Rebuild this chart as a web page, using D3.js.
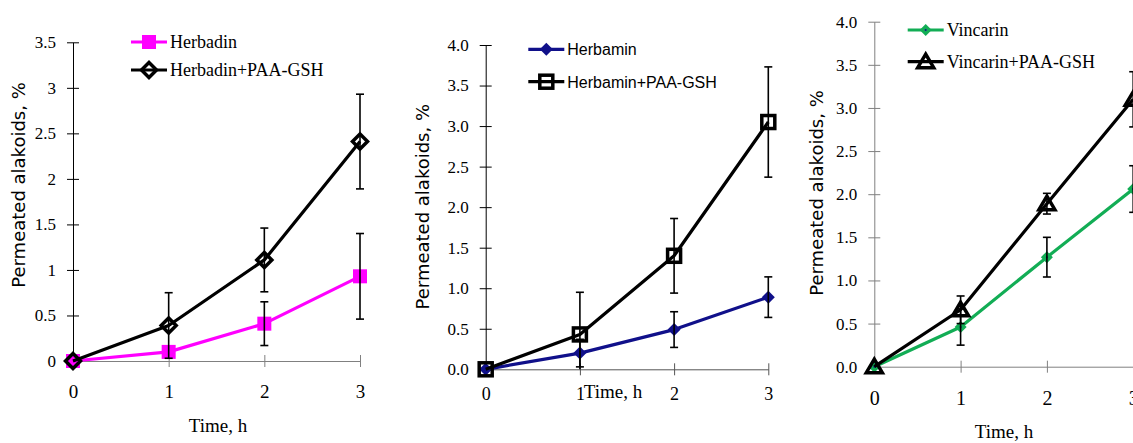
<!DOCTYPE html>
<html>
<head>
<meta charset="utf-8">
<script src="https://cdn.jsdelivr.net/npm/d3@7"></script>
<style>
body { margin: 0; background: #fff; }
</style>
</head>
<body>
<script>
// data
var hours = [0, 1, 2, 3];

var herbadin = [0, 0.10, 0.41, 0.93];
var herbadinErr = [0, 0, 0.24, 0.47];
var herbadinPaa = [0, 0.39, 1.11, 2.41];
var herbadinPaaErr = [0, 0.36, 0.35, 0.52];

var herbamin = [0, 0.20, 0.49, 0.89];
var herbaminErr = [0, 0.17, 0.22, 0.25];
var herbaminPaa = [0, 0.43, 1.40, 3.05];
var herbaminPaaErr = [0, 0.52, 0.46, 0.68];

var vincarin = [0, 0.46, 1.27, 2.06];
var vincarinErr = [0, 0.21, 0.23, 0.27];
var vincarinPaa = [0, 0.66, 1.89, 3.10];
var vincarinPaaErr = [0, 0.16, 0.12, 0.32];

var yTicksA = [0, 0.5, 1, 1.5, 2, 2.5, 3, 3.5];
var yTicksB = [0, 0.5, 1, 1.5, 2, 2.5, 3, 3.5, 4];

var yTitle = "Permeated alakoids, %";
var xTitle = "Time, h";

var serif = "'Liberation Serif', 'Times New Roman', serif";
var sans = "'DejaVu Sans', sans-serif";

var svg = d3.select("body").append("svg")
    .attr("width", 1133)
    .attr("height", 443);

var panels = [
  {
    x0: 73, x1: 360, yTop: 42.3, yBot: 361, yMax: 3.5, ticks: yTicksA, fmt: d3.format("~g"),
    yAxisColor: "#000", xAxisColor: "#808080", xFont: 19, xLabelY: 37,
    titleX: 25, titleY: 185, timeX: 218, timeY: 432,
    legX: 131, legY: [42, 70], legFont: serif, legSize: 18,
    series: [
      {name: "Herbadin", v: herbadin, e: herbadinErr, color: "#ff00ff", marker: "square"},
      {name: "Herbadin+PAA-GSH", v: herbadinPaa, e: herbadinPaaErr, color: "#000", marker: "diamondOpen"}
    ]
  },
  {
    x0: 485.7, x1: 768.3, yTop: 45, yBot: 369.3, yMax: 4, ticks: yTicksB, fmt: d3.format(".1f"),
    yAxisColor: "#000", xAxisColor: "#555", xFont: 18, xLabelY: 31,
    titleX: 429, titleY: 206.7, timeX: 613, timeY: 398,
    legX: 528.3, legY: [49.3, 81.7], legFont: "'Liberation Sans', Arial, sans-serif", legSize: 16,
    series: [
      {name: "Herbamin", v: herbamin, e: herbaminErr, color: "#10108a", marker: "diamond"},
      {name: "Herbamin+PAA-GSH", v: herbaminPaa, e: herbaminPaaErr, color: "#000", marker: "squareOpen"}
    ]
  },
  {
    x0: 874.3, x1: 1133.2, yTop: 21.7, yBot: 366.7, yMax: 4, ticks: yTicksB, fmt: d3.format(".1f"),
    yAxisColor: "#808080", xAxisColor: "#808080", xFont: 20, xLabelY: 38,
    titleX: 823, titleY: 193, timeX: 1004, timeY: 438,
    legX: 907.7, legY: [30, 61.7], legFont: serif, legSize: 18,
    series: [
      {name: "Vincarin", v: vincarin, e: vincarinErr, color: "#12ad55", marker: "dotDiamond"},
      {name: "Vincarin+PAA-GSH", v: vincarinPaa, e: vincarinPaaErr, color: "#000", marker: "triangleOpen"}
    ]
  }
];

function drawMarker(g, type, color) {
  if (type == "square") {
    g.append("rect").attr("x", -7).attr("y", -7).attr("width", 14).attr("height", 14).attr("fill", color);
  } else if (type == "squareOpen") {
    g.append("rect").attr("x", -6.5).attr("y", -6.5).attr("width", 13).attr("height", 13)
      .attr("fill", "none").attr("stroke", color).attr("stroke-width", 3.5);
  } else if (type == "diamondOpen") {
    g.append("path").attr("d", "M0,-7.5L7.5,0L0,7.5L-7.5,0Z")
      .attr("fill", "none").attr("stroke", color).attr("stroke-width", 3.5);
  } else if (type == "diamond") {
    g.append("path").attr("d", "M0,-6.5L6.5,0L0,6.5L-6.5,0Z").attr("fill", color);
  } else if (type == "dotDiamond") {
    g.append("path").attr("d", "M0,-6L6,0L0,6L-6,0Z").attr("fill", color);
    g.append("circle").attr("r", 1).attr("fill", "#10108a");
  } else if (type == "triangleOpen") {
    g.append("path").attr("d", "M0,-7.5L8,6L-8,6Z")
      .attr("fill", "none").attr("stroke", color).attr("stroke-width", 3.5).attr("stroke-linejoin", "miter");
  }
}

panels.forEach(function(p) {
  var x = d3.scaleLinear().domain([0, 3]).range([p.x0, p.x1]);
  var y = d3.scaleLinear().domain([0, p.yMax]).range([p.yBot, p.yTop]);

  var ya = svg.append("g")
      .attr("transform", "translate(" + p.x0 + ",0)")
      .call(d3.axisLeft(y).tickValues(p.ticks).tickFormat(p.fmt).tickSize(6).tickSizeOuter(0).tickPadding(11));
  ya.select(".domain").attr("stroke", p.yAxisColor);
  ya.selectAll(".tick line").attr("x1", -6).attr("x2", 6).attr("stroke", p.yAxisColor);
  ya.selectAll(".tick text").attr("font-family", serif).attr("font-size", 17).attr("fill", "#000");

  var xa = svg.append("g")
      .attr("transform", "translate(0," + p.yBot + ")")
      .call(d3.axisBottom(x).tickValues(hours).tickFormat(d3.format("d")).tickSize(6).tickSizeOuter(0));
  xa.select(".domain").attr("stroke", p.xAxisColor);
  xa.selectAll(".tick line").attr("y1", -6).attr("y2", 6).attr("stroke", p.xAxisColor);
  xa.selectAll(".tick text").attr("font-family", serif).attr("font-size", p.xFont)
      .attr("y", p.xLabelY).attr("dy", 0).attr("fill", "#000");
  ya.raise();

  svg.append("text")
      .attr("transform", "translate(" + p.titleX + "," + p.titleY + ") rotate(-90)")
      .attr("text-anchor", "middle")
      .attr("font-family", sans)
      .attr("font-size", 18)
      .text(yTitle);

  svg.append("text")
      .attr("x", p.timeX)
      .attr("y", p.timeY)
      .attr("text-anchor", "middle")
      .attr("font-family", serif)
      .attr("font-size", 19)
      .text(xTitle);

  var line = d3.line()
      .x(function(d, i) { return x(hours[i]); })
      .y(function(d) { return y(d); });

  p.series.forEach(function(s) {
    svg.append("path")
        .attr("d", line(s.v))
        .attr("fill", "none")
        .attr("stroke", s.color)
        .attr("stroke-width", 3.2)
        .attr("stroke-linejoin", "round");
    s.v.forEach(function(d, i) {
      drawMarker(svg.append("g").attr("transform", "translate(" + x(hours[i]) + "," + y(d) + ")"), s.marker, s.color);
    });
  });

  // error bars on top
  p.series.forEach(function(s) {
    s.v.forEach(function(d, i) {
      if (!s.e[i]) return;
      var cx = x(hours[i]);
      var hi = y(d + s.e[i]);
      var lowVal = d - s.e[i];
      var lo = y(Math.max(0, lowVal));
      var eb = svg.append("g").attr("stroke", "#000").attr("stroke-width", 1.6);
      eb.append("line").attr("x1", cx).attr("x2", cx).attr("y1", hi).attr("y2", lo);
      eb.append("line").attr("x1", cx - 4).attr("x2", cx + 4).attr("y1", hi).attr("y2", hi);
      if (lowVal >= 0) {
        eb.append("line").attr("x1", cx - 4).attr("x2", cx + 4).attr("y1", lo).attr("y2", lo);
      }
    });
  });

  // legend
  p.series.forEach(function(s, k) {
    var ly = p.legY[k];
    svg.append("line")
        .attr("x1", p.legX).attr("x2", p.legX + 36)
        .attr("y1", ly).attr("y2", ly)
        .attr("stroke", s.color).attr("stroke-width", 3.2);
    drawMarker(svg.append("g").attr("transform", "translate(" + (p.legX + 18) + "," + ly + ")"), s.marker, s.color);
    svg.append("text")
        .attr("x", p.legX + 39)
        .attr("y", ly + 6)
        .attr("font-family", p.legFont)
        .attr("font-size", p.legSize)
        .text(s.name);
  });
});
</script>
</body>
</html>
